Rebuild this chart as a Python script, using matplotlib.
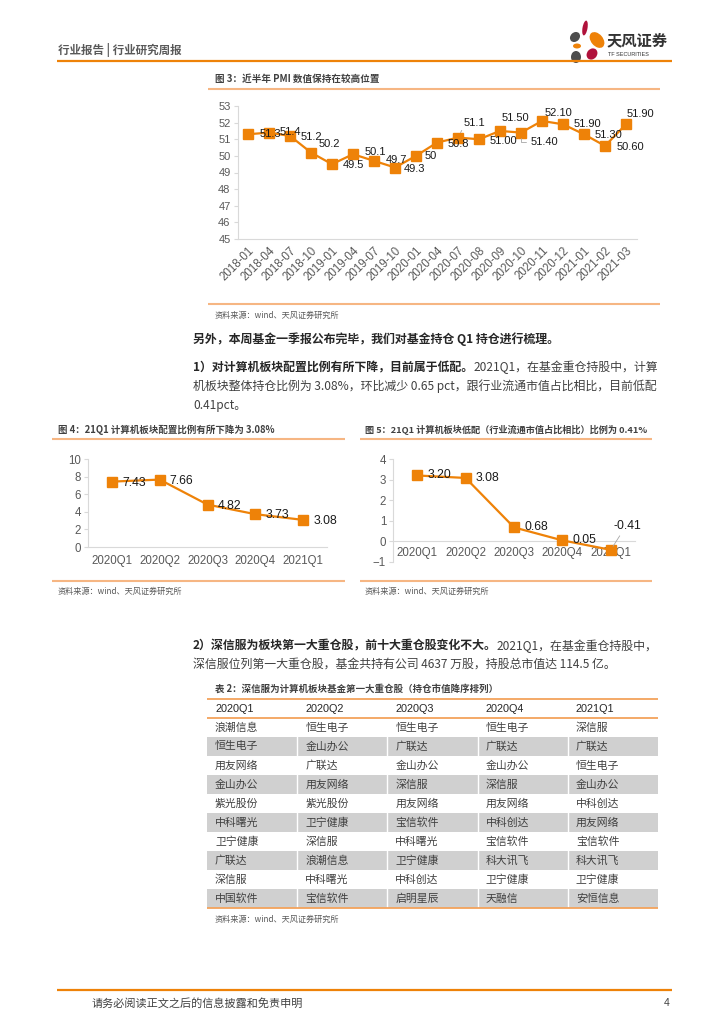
import matplotlib
matplotlib.use('Agg')
import matplotlib.pyplot as plt
from matplotlib.patches import Ellipse, Rectangle

plt.rcParams['font.family'] = ['Noto Sans CJK SC', 'DejaVu Sans']

# ---- data ----
pmi_months = ['2018-01', '2018-04', '2018-07', '2018-10', '2019-01', '2019-04', '2019-07',
              '2019-10', '2020-01', '2020-04', '2020-07', '2020-08', '2020-09', '2020-10',
              '2020-11', '2020-12', '2021-01', '2021-02', '2021-03']
pmi_values = [51.3, 51.4, 51.2, 50.2, 49.5, 50.1, 49.7, 49.3, 50.0, 50.8, 51.1, 51.0, 51.5,
              51.4, 52.1, 51.9, 51.3, 50.6, 51.9]
pmi_labels = ['51.3', '51.4', '51.2', '50.2', '49.5', '50.1', '49.7', '49.3', '50', '50.8',
              '51.1', '51.00', '51.50', '51.40', '52.10', '51.90', '51.30', '50.60', '51.90']

quarters = ['2020Q1', '2020Q2', '2020Q3', '2020Q4', '2021Q1']
weight = [7.43, 7.66, 4.82, 3.73, 3.08]
underweight = [3.20, 3.08, 0.68, 0.05, -0.41]

top_2020q1 = ['浪潮信息', '恒生电子', '用友网络', '金山办公', '紫光股份', '中科曙光', '卫宁健康', '广联达', '深信服', '中国软件']
top_2020q2 = ['恒生电子', '金山办公', '广联达', '用友网络', '紫光股份', '卫宁健康', '深信服', '浪潮信息', '中科曙光', '宝信软件']
top_2020q3 = ['恒生电子', '广联达', '金山办公', '深信服', '用友网络', '宝信软件', '中科曙光', '卫宁健康', '中科创达', '启明星辰']
top_2020q4 = ['恒生电子', '广联达', '金山办公', '深信服', '用友网络', '中科创达', '宝信软件', '科大讯飞', '卫宁健康', '天融信']
top_2021q1 = ['深信服', '广联达', '恒生电子', '金山办公', '中科创达', '用友网络', '宝信软件', '科大讯飞', '卫宁健康', '安恒信息']

W, H = 724, 1024
ORANGE = '#EE8208'
FRAME = '#F6B683'
AXIS = '#D9D9D9'
TICK = '#595959'
LATIN = ['Liberation Sans', 'Noto Sans CJK SC']

fig = plt.figure(figsize=(W / 100, H / 100), dpi=100)
page = fig.add_axes([0, 0, 1, 1])
page.set_xlim(0, W)
page.set_ylim(H, 0)
page.axis('off')
renderer = fig.canvas.get_renderer()


def rect(x0, y0, x1, y1):
    return [x0 / W, 1 - y1 / H, (x1 - x0) / W, (y1 - y0) / H]


def hline(y, x0, x1, color, lw):
    page.plot([x0, x1], [y, y], color=color, lw=lw, solid_capstyle='butt')


def runs(x, y, parts, size=8.6):
    for s, bold in parts:
        t = page.text(x, y, s, fontsize=size, fontweight='bold' if bold else 'normal',
                      color='#262626' if bold else '#404040', ha='left', va='center')
        x += t.get_window_extent(renderer=renderer).width


def style_axes(ax, size):
    for side in ['top', 'right']:
        ax.spines[side].set_visible(False)
    for side in ['left', 'bottom']:
        ax.spines[side].set_color(AXIS)
        ax.spines[side].set_linewidth(0.8)
    ax.tick_params(axis='y', length=3, color=AXIS, labelcolor=TICK, pad=2, labelsize=size)
    ax.tick_params(axis='x', length=0, labelcolor=TICK)
    for lab in ax.get_yticklabels() + ax.get_xticklabels():
        lab.set_family(LATIN)
    ax.set_facecolor('none')


# ---- header / footer ----
page.text(58, 50, '行业报告 | 行业研究周报', fontsize=8.3, fontweight='bold', color='#595959', va='center')
hline(61, 57, 672, ORANGE, 1.6)
hline(990, 57, 672, ORANGE, 1.6)
page.text(92, 1003, '请务必阅读正文之后的信息披露和免责申明', fontsize=8, color='#404040', va='center')
page.text(670, 1003, '4', fontsize=7.5, color='#404040', va='center', ha='right', family=LATIN)

# logo
for (cx, cy, w, h, ang, col) in [(585, 28, 5, 15, 10, '#B0123B'), (575, 37, 9, 11, 45, '#4D4D4D'),
                                 (597, 40, 12, 18, -40, ORANGE), (577, 46, 8, 5, 0, ORANGE),
                                 (592, 54, 10, 12, 40, '#B0123B'), (576, 57, 10, 12, 0, '#4D4D4D')]:
    page.add_patch(Ellipse((cx, cy), w, h, angle=ang, color=col, lw=0))
page.text(607, 40, '天风证券', fontsize=11, fontweight='bold', color='#333333', va='center')
page.text(608, 55, 'TF SECURITIES', fontsize=4, color='#333333', va='center', family=LATIN)

# ---- figure 3: PMI ----
page.text(215, 79, '图 3：近半年 PMI 数值保持在较高位置', fontsize=6.9, fontweight='bold', color='#404040', va='center')
hline(89, 208, 660, FRAME, 1.5)
hline(304, 208, 660, FRAME, 1.5)
page.text(215, 315, '资料来源：wind、天风证券研究所', fontsize=5.9, color='#595959', va='center')

pmi_off = [(22, 0), (21, 1), (21, -1), (18, 9), (21, -1), (22, 2), (22, 1), (20, -1), (15, 0),
           (21, -1), (16, 15), (24, -2), (15, 13), (23, -9), (16, 8), (24, 0), (24, -1), (25, -1), (14, 10)]
ax3 = fig.add_axes(rect(237.5, 106, 636.5, 239))
xs = range(len(pmi_months))
ax3.plot(xs, pmi_values, color=ORANGE, lw=1.6, marker='s', ms=6.5, zorder=3)
ax3.set_xlim(-0.5, len(pmi_months) - 0.5)
ax3.set_ylim(45, 53)
ax3.set_yticks(range(45, 54))
ax3.set_xticks(list(xs))
ax3.set_xticklabels(pmi_months, rotation=45, ha='right', rotation_mode='anchor', fontsize=8.3)
ax3.tick_params(axis='x', pad=4)
style_axes(ax3, 8)
for i, (v, s, off) in enumerate(zip(pmi_values, pmi_labels, pmi_off)):
    kw = {}
    if i == 10:
        kw['arrowprops'] = dict(arrowstyle='-', color='#A6A6A6', lw=0.6, relpos=(0, 0), shrinkA=0, shrinkB=4)
    if i == 13:
        kw['arrowprops'] = dict(arrowstyle='-', color='#A6A6A6', lw=0.6, relpos=(0, 0.5), shrinkA=1, shrinkB=4,
                                connectionstyle='angle,angleA=0,angleB=90,rad=0')
    ax3.annotate(s, (i, v), xytext=off, textcoords='offset pixels', ha='center', va='center',
                 fontsize=8, color='#1A1A1A', family=LATIN, zorder=4, **kw)

# ---- text paragraph 1 ----
runs(193, 339, [('另外，本周基金一季报公布完毕，我们对基金持仓 Q1 持仓进行梳理。', True)])
runs(193, 367, [('1）对计算机板块配置比例有所下降，目前属于低配。', True), ('2021Q1，在基金重仓持股中，计算', False)])
runs(193, 386, [('机板块整体持仓比例为 3.08%，环比减少 0.65 pct，跟行业流通市值占比相比，目前低配', False)])
runs(193, 405, [('0.41pct。', False)])

# ---- figure 4 ----
page.text(58, 430, '图 4：21Q1 计算机板块配置比例有所下降为 3.08%', fontsize=6.8, fontweight='bold', color='#404040', va='center')
hline(439, 52, 345, FRAME, 1.5)
hline(581, 52, 345, FRAME, 1.5)
page.text(58, 591, '资料来源：wind、天风证券研究所', fontsize=5.9, color='#595959', va='center')

ax4 = fig.add_axes(rect(88, 459, 327, 547))
ax4.plot(range(5), weight, color=ORANGE, lw=1.6, marker='s', ms=6.5, zorder=3)
ax4.set_xlim(-0.5, 4.5)
ax4.set_ylim(0, 10)
ax4.set_yticks(range(0, 11, 2))
ax4.set_xticks(range(5))
ax4.set_xticklabels(quarters, fontsize=8.3)
ax4.tick_params(axis='x', pad=6)
style_axes(ax4, 8.3)
for i, v in enumerate(weight):
    ax4.annotate(f'{v:.2f}', (i, v), xytext=(22, -1), textcoords='offset pixels', ha='center', va='center',
                 fontsize=8.8, color='#1A1A1A', family=LATIN, zorder=4)

# ---- figure 5 ----
page.text(365, 430, '图 5：21Q1 计算机板块低配（行业流通市值占比相比）比例为 0.41%', fontsize=6.6, fontweight='bold', color='#404040', va='center')
hline(439, 360, 652, FRAME, 1.5)
hline(581, 360, 652, FRAME, 1.5)
page.text(365, 591, '资料来源：wind、天风证券研究所', fontsize=5.9, color='#595959', va='center')

ax5 = fig.add_axes(rect(393, 459, 635, 562))
ax5.spines['bottom'].set_position(('data', 0))
ax5.plot(range(5), underweight, color=ORANGE, lw=1.6, marker='s', ms=6.5, zorder=3)
ax5.set_xlim(-0.5, 4.5)
ax5.set_ylim(-1, 4)
ax5.set_yticks(range(-1, 5))
ax5.set_xticks(range(5))
ax5.set_xticklabels(quarters, fontsize=8.3)
ax5.tick_params(axis='x', pad=4)
style_axes(ax5, 8.3)
for i, v in enumerate(underweight):
    kw = {}
    off = (22, 0)
    if v < 0:
        off = (17, 24)
        kw['arrowprops'] = dict(arrowstyle='-', color='#A6A6A6', lw=0.6, relpos=(0.3, 0), shrinkA=1, shrinkB=3)
    ax5.annotate(f'{v:.2f}', (i, v), xytext=off, textcoords='offset pixels', ha='center', va='center',
                 fontsize=8.8, color='#1A1A1A', family=LATIN, zorder=4, **kw)

# ---- text paragraph 2 ----
runs(193, 646, [('2）深信服为板块第一大重仓股，前十大重仓股变化不大。', True), ('2021Q1，在基金重仓持股中，', False)])
runs(193, 664, [('深信服位列第一大重仓股，基金共持有公司 4637 万股，持股总市值达 114.5 亿。', False)])

# ---- table 2 ----
page.text(215, 689, '表 2：深信服为计算机板块基金第一大重仓股（持仓市值降序排列）', fontsize=6.8, fontweight='bold', color='#404040', va='center')
columns = [top_2020q1, top_2020q2, top_2020q3, top_2020q4, top_2021q1]
tx0, tx1 = 207, 658
cw = (tx1 - tx0) / len(columns)
top, rh = 699, 19
body_top = top + rh
for r in range(len(top_2020q1)):
    y0 = body_top + r * rh
    if r % 2 == 1:
        page.add_patch(Rectangle((tx0, y0), tx1 - tx0, rh, color='#D0D0D0', lw=0))
        for c in range(1, len(columns)):
            page.plot([tx0 + c * cw, tx0 + c * cw], [y0, y0 + rh], color='white', lw=1)
for c, (q, col) in enumerate(zip(quarters, columns)):
    x = tx0 + c * cw + 8
    page.text(x, top + rh / 2, q, fontsize=7.8, color='#262626', va='center', family=LATIN)
    for r, name in enumerate(col):
        page.text(x, body_top + r * rh + rh / 2, name, fontsize=7.8, color='#404040', va='center')
hline(top, tx0, tx1, '#F3A35C', 1.3)
hline(body_top, tx0, tx1, '#F3A35C', 1.3)
hline(body_top + 10 * rh, tx0, tx1, '#F3A35C', 1.3)
page.text(215, 919, '资料来源：wind、天风证券研究所', fontsize=5.9, color='#595959', va='center')

fig.savefig('out.png', dpi=100)
